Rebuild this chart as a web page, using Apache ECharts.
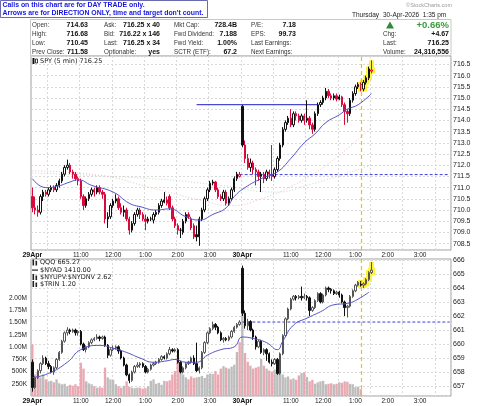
<!DOCTYPE html>
<html>
<head>
<meta charset="utf-8">
<script src="https://cdn.jsdelivr.net/npm/echarts@6/dist/echarts.min.js"></script>
<style>
  html, body { margin: 0; padding: 0; background: #fff; }
  #main { width: 480px; height: 406px; }
</style>
</head>
<body>
<div id="main"></div>
<script>
// 2 sessions x 78 five-minute slots (29Apr + 30Apr)
var slotCount = 156;
var timeTicks = [[0, '29Apr'], [18, '11:00'], [30, '12:00'], [42, '1:00'], [54, '2:00'], [66, '3:00'],
                 [78, '30Apr'], [96, '11:00'], [108, '12:00'], [120, '1:00'], [132, '2:00'], [144, '3:00']];
var dateTicks = [0, 78];

// SPY 5 min bars [open, close, low, high]
var spyDay1 = [
  [710.6,710.1,709.9,711.0],[710.1,710.0,709.8,710.6],[710.0,709.9,709.7,710.2],[709.9,710.6,709.8,710.7],
  [710.6,710.8,710.4,710.9],[710.8,710.7,710.6,710.9],[710.7,710.9,710.6,711.0],[710.9,711.0,710.8,711.1],
  [711.0,710.9,710.8,711.1],[710.9,711.1,710.8,711.2],[711.1,711.3,711.0,711.4],[711.3,711.6,711.2,711.7],
  [711.6,711.9,711.5,712.0],[711.9,712.0,711.8,712.25],[712.0,711.7,711.6,712.1],[711.7,711.6,711.4,711.8],
  [711.6,711.4,711.3,711.7],[711.4,711.3,711.1,711.5],[711.3,710.6,710.5,711.4],[710.6,710.2,710.0,710.7],
  [710.2,710.5,710.1,710.6],[710.5,710.7,710.4,710.8],[710.7,710.9,710.6,711.0],[710.9,710.8,710.6,711.0],
  [710.8,711.0,710.7,711.1],[711.0,710.8,710.7,711.1],[710.8,710.7,710.5,710.9],[710.7,709.6,709.4,710.8],
  [709.6,709.7,709.2,709.9],[709.7,710.2,709.6,710.3],[710.2,710.4,710.1,710.5],[710.4,710.5,710.3,710.7],
  [710.5,710.1,710.0,710.6],[710.1,709.9,709.8,710.3],[709.9,710.0,709.7,710.2],[710.0,709.6,709.5,710.1],
  [709.6,709.1,708.9,709.7],[709.1,709.4,709.0,709.5],[709.4,709.8,709.3,709.9],[709.8,710.0,709.7,710.1],
  [710.0,709.8,709.6,710.1],[709.8,709.6,709.5,709.9],[709.6,709.5,709.1,709.8],[709.5,709.6,709.4,709.7],
  [709.6,709.6,709.5,709.7],[709.55,709.8,709.4,709.9],[709.8,709.9,709.7,710.0],[709.9,710.2,709.8,710.3],
  [710.2,710.4,710.1,710.5],[710.35,710.45,710.3,710.8],[710.45,710.3,710.2,710.6],[710.6,710.1,710.0,710.7],
  [710.1,709.6,709.5,710.2],[709.6,709.3,709.2,709.7],[709.3,709.1,708.9,709.4],[709.1,709.1,708.75,709.2],
  [709.0,709.5,708.9,709.6],[709.5,709.8,709.4,709.9],[709.8,709.7,709.6,709.9],[709.6,709.2,709.1,709.7],
  [709.3,708.8,708.7,709.4],[708.9,708.8,708.6,709.3],[708.8,709.6,708.4,709.7],[709.6,710.0,709.5,710.1],
  [710.0,710.5,709.9,710.6],[710.5,710.9,710.4,711.0],[710.9,711.2,710.8,711.3],[711.2,711.25,711.1,711.35],
  [711.25,710.9,710.8,711.3],[710.9,710.6,710.5,711.0],[710.6,710.5,710.4,710.7],[710.5,710.8,710.4,710.9],
  [710.8,710.3,710.2,710.9],[710.3,710.5,710.2,710.6],[710.5,710.9,710.4,711.0],[710.9,711.4,710.8,711.5],
  [711.4,711.6,711.3,711.7],[711.5,711.58,711.45,711.7]
];
var spyDay2 = [
  [714.63,712.9,712.8,714.68],[712.9,712.3,712.1,713.1],[712.3,711.9,711.8,712.5],[711.9,712.1,711.7,712.3],
  [712.1,711.8,711.6,712.2],[711.8,711.7,711.1,711.9],[711.7,711.5,711.3,711.8],[711.5,711.6,710.8,711.7],
  [711.6,711.4,711.2,711.7],[711.4,711.7,711.3,711.8],[711.7,711.6,711.4,711.8],[711.6,711.5,711.3,712.9],
  [711.5,711.8,711.4,711.9],[711.8,712.3,711.7,712.4],[712.3,712.9,712.2,713.0],[712.9,713.6,712.8,713.7],
  [713.6,713.9,713.5,714.0],[713.9,714.1,713.8,714.2],[714.1,713.8,713.7,714.5],[713.8,714.3,713.7,714.4],
  [714.3,714.2,714.0,714.4],[714.2,714.0,713.9,714.3],[714.0,714.2,713.9,714.3],[714.2,714.0,713.8,714.3],
  [714.0,714.1,713.9,714.9],[714.1,713.8,713.6,714.2],[713.8,713.6,713.4,713.9],[713.6,714.3,713.5,714.4],
  [714.3,714.7,714.2,714.8],[714.7,714.8,714.6,714.9],[714.8,715.0,714.7,715.1],[715.0,715.3,714.9,715.45],
  [715.3,715.1,715.0,715.4],[715.1,715.0,714.9,715.2],[715.0,715.1,714.9,715.2],[715.1,714.95,714.85,715.2],
  [714.95,715.05,714.9,715.15],[715.05,714.7,714.6,715.1],[714.7,714.4,713.8,714.8],[714.4,714.3,713.9,714.5],
  [714.3,714.9,714.2,715.0],[714.9,715.2,714.8,715.3],[715.2,715.5,715.1,715.6],[715.5,715.6,715.4,715.7],
  [715.6,715.4,715.3,715.7],[715.4,715.7,715.3,715.8],[715.7,715.9,715.6,716.0],[715.9,716.3,715.8,716.4],
  [716.2,716.25,716.1,716.68]
];
var spyPrevClose28 = 711.2;
var spyPrevClose = 711.58;
var spyOpenLine = [[61, 714.7], [106, 714.7]];

// QQQ 5 min bars [open, close, low, high]
var qqqDay1 = [
  [658.7,656.9,656.6,658.9],[656.9,657.6,656.8,657.7],[657.6,658.1,657.5,658.2],[658.1,658.6,657.9,658.7],
  [658.6,659.0,658.5,659.2],[659.0,658.6,658.5,659.1],[658.6,658.4,658.2,658.8],[658.4,658.0,657.9,658.5],
  [658.0,658.3,657.8,658.4],[658.3,658.9,658.2,659.0],[658.9,659.4,658.8,659.5],[659.4,660.2,659.3,660.3],
  [660.2,660.8,660.1,660.9],[660.8,661.0,660.6,661.2],[661.0,660.9,660.7,661.1],[660.9,661.0,660.8,661.1],
  [661.0,660.8,660.6,661.1],[660.8,660.9,660.6,661.0],[660.9,660.0,659.9,661.0],[660.0,659.6,659.5,660.1],
  [659.6,659.8,659.4,659.9],[659.8,660.1,659.7,660.2],[660.1,660.3,660.0,660.4],[660.3,660.4,660.2,660.5],
  [660.4,660.5,660.3,660.7],[660.5,660.4,660.2,660.6],[660.4,660.5,660.3,660.6],[660.5,659.9,659.8,660.6],
  [659.9,659.2,659.0,660.0],[659.2,659.6,659.1,659.7],[659.6,659.7,659.5,659.9],[659.7,659.8,659.6,659.9],
  [659.8,659.5,659.3,659.9],[659.5,659.0,658.9,659.6],[659.0,658.5,658.4,659.1],[658.5,657.8,657.7,658.6],
  [657.8,657.4,657.2,657.9],[657.4,658.0,657.3,658.1],[658.0,658.4,657.9,658.5],[658.4,658.5,658.3,658.7],
  [658.5,658.6,658.3,658.7],[658.6,658.4,658.3,658.7],[658.4,658.0,657.9,658.5],[658.0,658.2,657.9,658.3],
  [658.2,658.5,658.1,658.6],[658.5,658.6,658.4,658.7],[658.6,658.7,658.5,658.8],[658.7,658.9,658.6,659.0],
  [658.9,659.1,658.8,659.2],[659.1,659.0,658.9,659.2],[659.0,659.3,658.9,659.4],[659.3,659.6,659.2,659.8],
  [659.6,659.5,659.4,659.7],[659.5,659.6,659.4,659.7],[659.6,658.7,658.6,659.7],[658.7,658.0,657.9,658.8],
  [658.0,658.3,657.9,658.4],[658.3,658.6,658.2,658.7],[658.6,658.7,658.5,658.8],[658.7,659.0,658.6,659.1],
  [659.0,658.6,658.5,659.2],[658.6,658.1,658.0,660.1],[658.1,658.3,657.9,658.4],[658.3,659.4,658.2,659.5],
  [659.4,660.1,659.3,660.2],[660.1,660.8,660.0,660.9],[660.8,661.1,660.7,661.2],[661.1,661.4,661.0,661.6],
  [661.4,661.2,661.0,661.5],[661.2,660.8,660.7,661.3],[660.8,660.3,660.2,660.9],[660.3,660.4,660.1,660.5],
  [660.4,660.3,660.2,660.5],[660.3,660.5,660.2,660.6],[660.5,660.9,660.4,661.0],[660.9,661.2,660.8,661.3],
  [661.2,661.4,661.1,661.5],[661.4,661.57,661.3,661.7]
];
var qqqDay2 = [
  [665.4,662.2,662.0,665.6],[662.2,661.3,661.1,662.4],[661.3,661.6,661.0,661.8],[661.6,661.0,660.9,661.7],
  [661.0,660.5,660.3,661.1],[660.5,659.8,659.6,660.6],[659.8,660.2,659.7,660.3],[660.2,659.4,659.3,660.3],
  [659.4,659.6,659.2,659.7],[659.6,659.3,658.8,659.7],[659.3,658.7,658.6,659.4],[658.7,658.6,658.4,658.9],
  [658.6,658.9,658.5,659.0],[658.9,657.9,657.8,659.0],[657.9,659.3,657.8,659.4],[659.3,660.6,659.2,660.7],
  [660.6,661.8,660.5,661.9],[661.8,662.5,661.7,662.6],[662.5,663.2,662.4,663.3],[663.2,663.4,663.1,663.5],
  [663.4,663.3,663.1,663.5],[663.3,663.4,663.2,663.5],[663.4,663.3,663.1,664.1],[663.3,663.4,663.2,663.6],
  [663.4,663.3,663.1,663.5],[663.3,662.4,662.0,663.4],[662.4,662.6,662.3,662.7],[662.6,663.1,662.5,663.2],
  [663.1,663.6,663.0,663.7],[663.6,663.0,662.9,663.7],[663.0,663.5,662.9,663.6],[663.5,664.0,663.4,664.1],
  [664.0,663.9,663.7,664.1],[663.9,663.8,663.6,664.0],[663.8,663.6,663.5,663.9],[663.6,663.7,663.5,663.8],
  [663.7,663.5,663.3,663.8],[663.5,663.0,662.9,663.6],[663.0,662.6,662.0,663.1],[662.6,662.7,661.9,662.8],
  [662.7,663.4,662.6,663.5],[663.4,663.8,663.3,663.9],[663.8,664.2,663.7,664.3],[664.2,664.4,664.1,664.5],
  [664.4,664.2,664.1,664.5],[664.2,664.3,664.0,664.4],[664.3,664.6,664.2,664.7],[664.6,665.1,664.5,665.2],
  [665.1,665.27,665.0,665.85]
];
var qqqPrevClose = 661.57;

// volume, thousands of shares
var volDay1 = [1060,440,470,380,440,340,300,310,280,340,260,240,250,200,230,210,240,200,680,560,
               300,260,240,200,170,180,170,580,380,340,330,240,200,170,210,300,190,170,160,170,
               170,150,160,200,310,340,250,270,230,310,300,320,440,510,780,560,440,380,340,400,
               370,380,390,410,370,440,460,450,510,440,560,610,580,560,600,640,900,1100];
var volDay2 = [1880,880,700,620,560,580,600,760,620,560,520,500,540,460,520,440,380,400,340,360,
               330,420,470,480,390,300,330,250,280,300,310,240,250,260,240,250,280,270,300,290,
               250,240,180,190,140,null,null,null,null];

// moving averages, read at sample points [slot, value]
var spyMA = [[0,711.4],[5,711.0],[9,711.05],[14,711.25],[17,711.35],[22,711.1],[30,710.8],[36,710.3],
             [40,710.15],[46,710.0],[51,710.05],[57,709.7],[62,709.55],[67,709.8],[72,710.1],[75,710.6],
             [79,711.0],[85,711.4],[91,711.7],[96,712.3],[101,713.0],[105,713.4],[109,713.9],
             [114,714.25],[117,714.5],[121,714.7],[126,715.2]];
var spyMAslow = [[0,711.75],[25,711.55],[44,711.0],[62,710.45],[74,710.2],[85,710.5],[100,711.3],
                 [114,712.45],[126,713.7]];
var spyMAlong = [[0,711.65],[44,711.4],[70,711.1],[90,710.8],[102,711.1],[126,712.0]];
var qqqMA = [[0,657.6],[6,657.9],[13,658.7],[18,659.6],[25,659.9],[30,659.7],[35,659.4],[40,659.0],
             [45,658.7],[50,658.8],[53,658.9],[57,658.7],[61,658.7],[65,659.2],[70,659.6],[75,659.8],
             [78,660.5],[82,660.4],[87,660.1],[91,659.6],[93,660.2],[97,661.35],[102,661.85],
             [107,662.3],[112,662.8],[117,662.9],[120,663.1],[125,663.7]];
var highlightFrom = 122;

var RED = '#d80a3c', PINK = '#eaa8b2', GREY = '#bdbdbd', BLUE = '#5252c6', GOLD = '#f5c000';
var FONT = '"Liberation Sans", Arial, sans-serif';
var VERDANA = '"DejaVu Sans", Verdana, sans-serif';

var slots = [];
for (var s = 0; s < slotCount; s++) slots.push(String(s));
var tickText = {};
timeTicks.forEach(function (t) { tickText[t[0]] = t[1]; });

var spyBars = spyDay1.concat(spyDay2);
var qqqBars = qqqDay1.concat(qqqDay2);
var vols = volDay1.concat(volDay2);

function spyItems(bars) {
  return bars.map(function (b, i) {
    var prev = i === 0 ? spyPrevClose28 : bars[i - 1][1];
    var c = b[1] < prev ? RED : '#111';
    var fill = b[1] >= b[0] ? '#fff' : c;
    return { value: b, itemStyle: { color: fill, color0: fill, borderColor: c, borderColor0: c } };
  });
}
function qqqItems(bars) {
  return bars.map(function (b) {
    var up = b[1] >= b[0];
    var fill = up ? '#fff' : '#111';
    var edge = up ? '#555' : '#111';
    return { value: b, itemStyle: { color: fill, color0: fill, borderColor: edge, borderColor0: edge } };
  });
}
function highlight(bars) {
  return bars.map(function (b, i) { return i >= highlightFrom ? b : ['-', '-', '-', '-']; });
}
var volItems = vols.map(function (v, i) {
  if (v == null) return '-';
  var prev = i === 0 ? spyPrevClose28 : spyBars[i - 1][1];
  return { value: v * 1000, itemStyle: { color: spyBars[i][1] < prev ? PINK : GREY } };
});

function xAxisFor(gi) {
  return {
    type: 'category', gridIndex: gi, data: slots, boundaryGap: true,
    axisLine: { show: false }, axisTick: { show: false },
    axisLabel: {
      interval: function (i) { return tickText[i] !== undefined; },
      formatter: function (v) {
        var k = +v;
        return dateTicks.indexOf(k) >= 0 ? '{b|' + tickText[k] + '}' : tickText[k];
      },
      rich: { b: { fontWeight: 'bold', fontSize: 7, fontFamily: FONT, color: '#111' } },
      fontSize: 6.5, fontFamily: FONT, color: '#222', margin: 2
    },
    splitLine: {
      show: true,
      interval: function (i) { return i > 0 && (i - 6) % 12 === 0; },
      lineStyle: { color: '#d9d9d9', type: [2, 2] }
    }
  };
}

function txt(x, y, s, o) {
  o = o || {};
  return {
    type: 'text', x: x, y: y, silent: true, z: 100,
    style: {
      text: s, fill: o.color || '#222', textAlign: o.align || 'left', textVerticalAlign: 'middle',
      font: (o.bold ? 'bold ' : '') + (o.size || 6.5) + 'px ' + (o.family || FONT)
    }
  };
}

var rows = [25, 34, 43, 52];
var graphics = [
  { type: 'rect', shape: { x: 30.5, y: 19.5, width: 420.5, height: 36 }, style: { fill: '#fff', stroke: '#c8c8c8' }, silent: true },
  { type: 'rect', shape: { x: 0.5, y: 0.5, width: 207, height: 17 }, style: { fill: '#fff', stroke: '#6b6bb0' }, silent: true, z: 99 },
  txt(2.5, 5, 'Calls on this chart are for DAY TRADE only.', { bold: true, color: '#1515e6', size: 6.9 }),
  txt(2.5, 13, 'Arrows are for DIRECTION ONLY, time and target don\'t count.', { bold: true, color: '#1515e6', size: 6.9 }),
  txt(452, 5, '\u00a9StockCharts.com', { color: '#999', size: 5.5, align: 'right' }),
  txt(352, 15, 'Thursday', { size: 6.5 }),
  txt(383, 15, '30-Apr-2026  1:35 pm', { size: 6.5 }),
  { type: 'polygon', shape: { points: [[386, 28.5], [394, 28.5], [390, 21.5]] }, style: { fill: '#2e8b3a' }, silent: true, z: 100 },
  txt(449, 25, '+0.66%', { bold: true, color: '#3a9a3a', size: 9.5, align: 'right' }),
  txt(40, 61, 'SPY (5 min) 716.25', { size: 6.5, family: VERDANA }),
  { type: 'rect', shape: { x: 32.5, y: 58, width: 2, height: 6 }, style: { fill: '#111' }, silent: true, z: 100 },
  { type: 'rect', shape: { x: 35.5, y: 59, width: 2, height: 4 }, style: { fill: '#fff', stroke: '#111', lineWidth: 0.8 }, silent: true, z: 100 }
];
var headerCols = [
  [32, 88, ['Open:', 'High:', 'Low:', 'Prev Close:'], ['714.63', '716.68', '710.45', '711.58']],
  [104, 160, ['Ask:', 'Bid:', 'Last:', 'Optionable:'], ['716.25 x 40', '716.22 x 146', '716.25 x 34', 'yes']],
  [174, 237, ['Mkt Cap:', 'Fwd Dividend:', 'Fwd Yield:', 'SCTR (ETF):'], ['728.4B', '7.188', '1.00%', '67.2']],
  [251, 296, ['P/E:', 'EPS:', 'Last Earnings:', 'Next Earnings:'], ['7.18', '99.73', '', '']],
  [383, 449, ['', 'Chg:', 'Last:', 'Volume:'], ['', '+4.67', '716.25', '24,316,556']]
];
headerCols.forEach(function (col) {
  for (var r = 0; r < 4; r++) {
    if (col[2][r]) graphics.push(txt(col[0], rows[r], col[2][r], { size: 6.3, color: '#333' }));
    if (col[3][r]) graphics.push(txt(col[1], rows[r], col[3][r], { size: 7, bold: true, color: '#111', align: 'right' }));
  }
});
var legend2 = [[262.5, 'QQQ 665.27'], [270, '$NYAD 1410.00'], [277, '$NYUPV:$NYDNV 2.62'], [284, '$TRIN 1.20']];
legend2.forEach(function (l, k) {
  graphics.push(txt(40, l[0], l[1], { size: 6.5, family: VERDANA }));
  if (k === 1) {
    graphics.push({ type: 'rect', shape: { x: 32, y: l[0] - 0.5, width: 6, height: 1.2 }, style: { fill: '#222' }, silent: true, z: 100 });
  } else {
    graphics.push({ type: 'rect', shape: { x: 32.5, y: l[0] - 3, width: 1.6, height: 6 }, style: { fill: '#222' }, silent: true, z: 100 });
    graphics.push({ type: 'rect', shape: { x: 35.5, y: l[0] - 1.5, width: 1.6, height: 4.5 }, style: { fill: '#222' }, silent: true, z: 100 });
  }
});

var goldLine = {
  silent: true, symbol: 'none', animation: false, label: { show: false },
  lineStyle: { color: GOLD, type: [4, 3], width: 1.2 },
  data: [{ xAxis: 122 }]
};
var glow = { color: '#fff23a', color0: '#fff23a', borderColor: '#fff23a', borderColor0: '#fff23a', borderWidth: 5 };

var chart = echarts.init(document.getElementById('main'));
chart.setOption({
  animation: false,
  backgroundColor: '#fff',
  grid: [
    { left: 31, right: 29, top: 56, height: 194, show: true, borderColor: '#9e9e9e', borderWidth: 1 },
    { left: 31, right: 29, top: 259, height: 137, show: true, borderColor: '#9e9e9e', borderWidth: 1 }
  ],
  xAxis: [xAxisFor(0), xAxisFor(1)],
  yAxis: [
    {
      type: 'value', gridIndex: 0, position: 'right', min: 708.214, max: 716.875, splitNumber: 17, scale: true,
      axisLine: { show: false }, axisTick: { show: false },
      axisLabel: { fontSize: 7, fontFamily: FONT, color: '#222', margin: 2, showMinLabel: false, showMaxLabel: false,
        formatter: function (v) { return v.toFixed(1); } },
      splitLine: { lineStyle: { color: '#d9d9d9', type: [2, 2] } }
    },
    {
      type: 'value', gridIndex: 1, position: 'right', min: 656.29, max: 666.07, splitNumber: 10, scale: true,
      axisLine: { show: false }, axisTick: { show: false },
      axisLabel: { fontSize: 7, fontFamily: FONT, color: '#222', margin: 2, showMinLabel: false, showMaxLabel: false,
        formatter: function (v) { return v.toFixed(0); } },
      splitLine: { lineStyle: { color: '#d9d9d9', type: [2, 2] } }
    },
    {
      type: 'value', gridIndex: 1, position: 'left', min: 0, max: 2800000, interval: 250000,
      axisLine: { show: false }, axisTick: { show: false }, splitLine: { show: false },
      axisLabel: { fontSize: 6.5, fontFamily: FONT, color: '#222', margin: 4,
        formatter: function (v) {
          if (v === 0 || v > 2000000) return '';
          return v >= 1000000 ? (v / 1000000).toFixed(2) + 'M' : (v / 1000) + 'K';
        } }
    }
  ],
  graphic: graphics,
  series: [
    { type: 'line', xAxisIndex: 0, yAxisIndex: 0, data: spyMAlong, smooth: true, symbol: 'none', z: 1,
      lineStyle: { color: '#bfe0bf', width: 1, type: [1, 2] } },
    { type: 'line', xAxisIndex: 0, yAxisIndex: 0, data: spyMAslow, smooth: true, symbol: 'none', z: 1,
      lineStyle: { color: '#f2bcc6', width: 1, type: [1, 2] } },
    { type: 'candlestick', xAxisIndex: 0, yAxisIndex: 0, data: highlight(spyBars), barWidth: '70%', z: 2,
      itemStyle: glow },
    { type: 'line', xAxisIndex: 0, yAxisIndex: 0, data: spyOpenLine, symbol: 'none', z: 3,
      lineStyle: { color: '#4a4ad0', width: 1.2 } },
    { type: 'line', xAxisIndex: 0, yAxisIndex: 0, data: [[77, spyPrevClose], [155, spyPrevClose]], symbol: 'none', z: 3,
      lineStyle: { color: '#3d3de0', width: 1, type: [3, 2] } },
    { type: 'candlestick', xAxisIndex: 0, yAxisIndex: 0, data: spyItems(spyBars), barWidth: '70%', z: 4,
      markLine: goldLine },
    { type: 'line', xAxisIndex: 0, yAxisIndex: 0, data: spyMA, smooth: true, symbol: 'none', z: 5,
      lineStyle: { color: BLUE, width: 1 } },

    { type: 'bar', xAxisIndex: 1, yAxisIndex: 2, data: volItems, barCategoryGap: '12%', z: 1 },
    { type: 'candlestick', xAxisIndex: 1, yAxisIndex: 1, data: highlight(qqqBars), barWidth: '70%', z: 2,
      itemStyle: glow },
    { type: 'line', xAxisIndex: 1, yAxisIndex: 1, data: [[78, qqqPrevClose], [155, qqqPrevClose]], symbol: 'none', z: 3,
      lineStyle: { color: '#3d3de0', width: 1, type: [3, 2] } },
    { type: 'candlestick', xAxisIndex: 1, yAxisIndex: 1, data: qqqItems(qqqBars), barWidth: '70%', z: 4,
      markLine: goldLine },
    { type: 'line', xAxisIndex: 1, yAxisIndex: 1, data: qqqMA, smooth: true, symbol: 'none', z: 5,
      lineStyle: { color: BLUE, width: 1 } }
  ]
});
</script>
</body>
</html>
